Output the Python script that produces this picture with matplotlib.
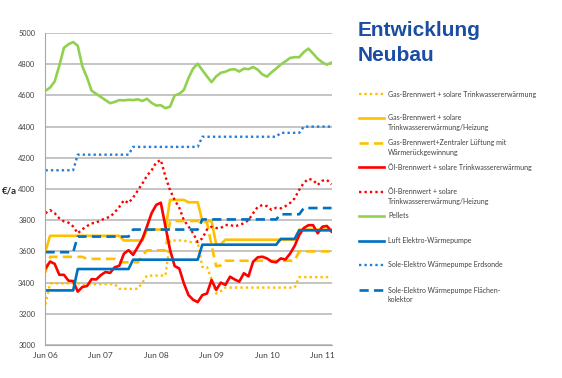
import numpy as np
import matplotlib.pyplot as plt

plt.rcParams['font.family'] = ['Lato', 'DejaVu Sans']

# Heizkosten €/a, monatlich Jun 06 .. Aug 11
gas_solar_ww = [3260, 3395, 3395, 3395, 3395, 3395, 3395, 3395, 3390, 3390,
                3390, 3390, 3390, 3390, 3390, 3390, 3360, 3360, 3360, 3360,
                3360, 3400, 3445, 3445, 3445, 3445, 3445, 3670, 3670, 3670,
                3670, 3660, 3660, 3660, 3500, 3500, 3420, 3330, 3345, 3368,
                3368, 3368, 3368, 3368, 3368, 3368, 3368, 3368, 3368, 3368,
                3368, 3368, 3368, 3368, 3368, 3435, 3435, 3435, 3435, 3435,
                3435, 3435, 3435]
gas_solar_hz = [3600, 3700, 3700, 3700, 3700, 3700, 3700, 3700, 3700, 3700,
                3700, 3700, 3700, 3700, 3700, 3700, 3700, 3670, 3670, 3670,
                3670, 3670, 3740, 3740, 3740, 3740, 3740, 3930, 3930, 3930,
                3930, 3915, 3915, 3915, 3795, 3795, 3795, 3645, 3645, 3675,
                3675, 3675, 3675, 3675, 3675, 3675, 3675, 3675, 3675, 3675,
                3675, 3675, 3675, 3675, 3675, 3740, 3740, 3740, 3740, 3740,
                3740, 3740, 3740]
gas_lueftung = [3465, 3565, 3565, 3565, 3565, 3565, 3565, 3565, 3565, 3552,
                3552, 3552, 3552, 3552, 3552, 3552, 3530, 3530, 3530, 3530,
                3530, 3570, 3607, 3607, 3607, 3607, 3607, 3795, 3795, 3795,
                3795, 3795, 3795, 3795, 3790, 3785, 3640, 3505, 3510, 3540,
                3540, 3540, 3540, 3540, 3540, 3540, 3540, 3540, 3540, 3540,
                3540, 3540, 3540, 3540, 3540, 3600, 3600, 3600, 3600, 3600,
                3600, 3600, 3600]
oel_solar_ww = [3490, 3535, 3520, 3450, 3450, 3412, 3410, 3342, 3372, 3378,
                3422, 3420, 3448, 3468, 3462, 3498, 3508, 3585, 3608, 3578,
                3628, 3680, 3760, 3845, 3898, 3912, 3760, 3610, 3506, 3490,
                3395, 3320, 3290, 3275, 3320, 3330, 3417, 3353, 3400, 3385,
                3438, 3420, 3406, 3460, 3440, 3534, 3562, 3566, 3555, 3535,
                3530, 3555, 3548, 3585, 3635, 3705, 3750, 3768, 3768, 3716,
                3758, 3763, 3727]
oel_solar_hz = [3845, 3865, 3845, 3812, 3792, 3784, 3760, 3716, 3742, 3762,
                3780, 3784, 3800, 3812, 3822, 3850, 3885, 3928, 3910, 3945,
                3990, 4035, 4085, 4120, 4170, 4186, 4080, 3993, 3929, 3880,
                3800, 3760, 3716, 3660, 3684, 3740, 3758, 3750, 3750, 3769,
                3770, 3760, 3770, 3780, 3800, 3845, 3885, 3897, 3890, 3866,
                3880, 3876, 3890, 3910, 3940, 3995, 4040, 4065, 4058, 4026,
                4053, 4058, 4030]
pellets = [4630, 4650, 4690, 4790, 4905, 4928, 4942, 4918, 4785, 4715,
           4630, 4610, 4590, 4570, 4550, 4558, 4570, 4568, 4572, 4570,
           4575, 4564, 4578, 4552, 4535, 4537, 4518, 4528, 4600, 4610,
           4635, 4712, 4772, 4803, 4762, 4722, 4685, 4722, 4745, 4752,
           4765, 4768, 4753, 4772, 4768, 4782, 4765, 4735, 4720, 4748,
           4772, 4798, 4818, 4840, 4845, 4845, 4878, 4900, 4868, 4835,
           4812, 4797, 4810]
luft_wp = [3350, 3350, 3350, 3350, 3350, 3350, 3350, 3487, 3487, 3487,
           3487, 3487, 3487, 3487, 3487, 3487, 3487, 3487, 3487, 3547,
           3547, 3547, 3547, 3547, 3547, 3547, 3547, 3547, 3547, 3547,
           3547, 3547, 3547, 3547, 3643, 3643, 3643, 3643, 3643, 3643,
           3643, 3643, 3643, 3643, 3643, 3643, 3643, 3643, 3643, 3643,
           3643, 3680, 3680, 3680, 3680, 3735, 3735, 3735, 3735, 3735,
           3735, 3735, 3735]
sole_erdsonde = [4120, 4120, 4120, 4120, 4120, 4120, 4120, 4220, 4220, 4220,
                 4220, 4220, 4220, 4220, 4220, 4220, 4220, 4220, 4220, 4270,
                 4270, 4270, 4270, 4270, 4270, 4270, 4270, 4270, 4270, 4270,
                 4270, 4270, 4270, 4270, 4335, 4335, 4335, 4335, 4335, 4335,
                 4335, 4335, 4335, 4335, 4335, 4335, 4335, 4335, 4335, 4335,
                 4335, 4360, 4360, 4360, 4360, 4360, 4400, 4400, 4400, 4400,
                 4400, 4400, 4400]
sole_flaeche = [3595, 3595, 3595, 3595, 3595, 3595, 3595, 3695, 3695, 3695,
                3695, 3695, 3695, 3695, 3695, 3695, 3695, 3695, 3695, 3740,
                3740, 3740, 3740, 3740, 3740, 3740, 3740, 3740, 3740, 3740,
                3740, 3740, 3740, 3740, 3805, 3805, 3805, 3805, 3805, 3805,
                3805, 3805, 3805, 3805, 3805, 3805, 3805, 3805, 3805, 3805,
                3805, 3838, 3838, 3838, 3838, 3838, 3878, 3878, 3878, 3878,
                3878, 3878, 3878]

tick_months = [0, 12, 24, 36, 48, 60]
tick_labels = ['Jun 06', 'Jun 07', 'Jun 08', 'Jun 09', 'Jun 10', 'Jun 11']

labels = ['Gas-Brennwert + solare Trinkwassererwärmung',
          'Gas-Brennwert + solare\nTrinkwassererwärmung/Heizung',
          'Gas-Brennwert+Zentraler Lüftung mit\nWärmerückgewinnung',
          'Öl-Brennwert + solare Trinkwassererwärmung',
          'Öl-Brennwert + solare\nTrinkwassererwärmung/Heizung',
          'Pellets',
          'Luft Elektro-Wärmepumpe',
          'Sole-Elektro Wärmepumpe Erdsonde',
          'Sole-Elektro Wärmepumpe Flächen-\nkolektor']

dot = (0, (1, 1.3))
dash = (0, (3.5, 2))
series = [
    (gas_solar_ww, '#FFC000', dot),
    (gas_solar_hz, '#FFC000', '-'),
    (gas_lueftung, '#FFC000', dash),
    (oel_solar_ww, '#FF0000', '-'),
    (oel_solar_hz, '#FF0000', dot),
    (pellets, '#92D050', '-'),
    (luft_wp, '#0070C0', '-'),
    (sole_erdsonde, '#1F7FD8', dot),
    (sole_flaeche, '#0070C0', dash),
]

W, H = 562, 378
fig = plt.figure(figsize=(W / 100, H / 100), dpi=100)
ax = fig.add_axes([45 / W, 1 - 345 / H, 287 / W, 312 / H])

for vals, col, ls in series:
    lw = 1.7 if ls == dot else 1.9
    ax.plot(np.arange(len(vals)), vals, color=col, ls=ls, lw=lw)

ax.set_xlim(-0.1, 62.1)
ax.set_ylim(3000, 5000)
ax.set_yticks(range(3000, 5001, 200))
ax.set_xticks(tick_months)
ax.set_xticklabels(tick_labels)
ax.yaxis.grid(True, color='#BFBFBF', lw=1.3)
ax.set_axisbelow(True)
for s in ['top', 'right']:
    ax.spines[s].set_visible(False)
ax.spines['left'].set_color('#A6A6A6')
ax.spines['bottom'].set_color('#A6A6A6')
ax.tick_params(axis='y', length=0, pad=7, labelsize=5.3, labelcolor='#404040')
ax.tick_params(axis='x', length=0, pad=5, labelsize=6, labelcolor='#404040')

fig.text(2 / W, 1 - 191 / H, '€/a', fontsize=7, fontweight='bold',
         color='#262626', ha='left', va='center')

fig.text(358 / W, 1 - 36 / H, 'Entwicklung', fontsize=15, fontweight='bold',
         family=['Liberation Sans', 'DejaVu Sans'], color='#1B4DA3', va='baseline')
fig.text(358 / W, 1 - 61 / H, 'Neubau', fontsize=15, fontweight='bold',
         family=['Liberation Sans', 'DejaVu Sans'], color='#1B4DA3', va='baseline')

# legende rechts
lax = fig.add_axes([0, 0, 1, 1])
lax.set_xlim(0, W)
lax.set_ylim(H, 0)
lax.axis('off')
leg_y = [94, 118, 143, 167, 192, 216, 241, 265, 290]
for (vals, col, ls), lab, y in zip(series, labels, leg_y):
    lw = 1.7 if ls == dot else 1.9
    lax.plot([359, 384], [y, y], color=col, ls=ls, lw=lw)
    for i, line in enumerate(lab.split('\n')):
        lax.text(388, y + i * 9.3, line, fontsize=5, color='#404040', va='center')

fig.savefig('out.png', dpi=100)
